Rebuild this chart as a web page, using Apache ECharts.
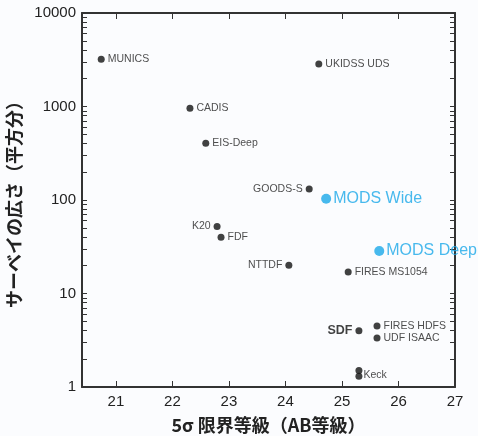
<!DOCTYPE html>
<html>
<head>
<meta charset="utf-8">
<script src="https://cdn.jsdelivr.net/npm/echarts@6/dist/echarts.min.js"></script>
<style>
  html, body { margin: 0; padding: 0; background: #fbfcfe; }
  #chart { width: 478px; height: 436px; }
</style>
</head>
<body>
<div id="chart"></div>
<script>
// サーベイ名・5σ限界等級・面積(平方分)
const surveyNames = ['MUNICS', 'CADIS', 'EIS-Deep', 'UKIDSS UDS', 'GOODS-S', 'K20', 'FDF',
  'NTTDF', 'FIRES MS1054', 'FIRES HDFS', 'UDF ISAAC', 'SDF', 'Keck', 'Keck'];
const surveyMag = [20.74, 22.31, 22.59, 24.59, 24.42, 22.79, 22.86,
  24.06, 25.11, 25.62, 25.62, 25.30, 25.30, 25.30];
const surveyArea = [3200, 960, 405, 2850, 131, 52, 40,
  20, 17, 4.5, 3.35, 4.0, 1.5, 1.3];

const modsNames = ['MODS Wide', 'MODS Deep'];
const modsMag = [24.72, 25.66];
const modsArea = [103, 28.5];

const xTicks = [21, 22, 23, 24, 25, 26, 27];
const yTicks = [1, 10, 100, 1000, 10000];
const yMinorTicks = [2, 3, 4, 5, 6, 7, 8, 9, 20, 30, 40, 50, 60, 70, 80, 90,
  200, 300, 400, 500, 600, 700, 800, 900, 2000, 3000, 4000, 5000, 6000, 7000, 8000, 9000];

var myChart = echarts.init(document.getElementById('chart'));

var font = 'Liberation Sans';
var cjk = 'Noto Sans CJK JP';
var axisCol = '#333';

// ラベルの位置
var labelSide = {
  'GOODS-S': 'left', 'K20': 'left', 'NTTDF': 'left', 'SDF': 'left'
};

var surveyData = surveyNames.map(function (n, i) {
  var d = { value: [surveyMag[i], surveyArea[i]], name: n,
    label: { position: labelSide[n] || 'right' } };
  if (n === 'SDF') {
    d.label.fontSize = 12.5; d.label.fontWeight = 'bold'; d.label.color = '#111';
  }
  if (n === 'Keck' && i === 12) d.label = { show: false };
  if (n === 'Keck' && i === 13) d.label = { position: 'right', distance: 1, offset: [0, -1] };
  return d;
});
var modsData = modsNames.map(function (n, i) {
  return { value: [modsMag[i], modsArea[i]], name: n };
});

var yAllTicks = yTicks.concat(yMinorTicks).sort(function (a, b) { return a - b; });

function xAxisOf(pos, withLabel) {
  var ax = {
    type: 'value', min: 20.4, max: 27, position: pos,
    axisLine: { show: true, onZero: false, lineStyle: { color: axisCol, width: 2 } },
    axisTick: { show: true, inside: true, length: 6, customValues: xTicks },
    axisLabel: { customValues: xTicks, fontSize: 15,
      color: withLabel ? '#222' : 'rgba(0,0,0,0)', fontFamily: font, margin: 7 },
    splitLine: { show: false }
  };
  if (withLabel) {
    ax.name = '5σ 限界等級（AB等級）';
    ax.nameLocation = 'middle';
    ax.nameGap = 29;
    ax.nameTextStyle = { fontSize: 18, fontWeight: 'bold', color: '#222', fontFamily: cjk };
  }
  return ax;
}

function yAxisOf(pos, withLabel) {
  var ax = {
    type: 'log', min: 1, max: 10000, position: pos,
    axisLine: { show: true, onZero: false, lineStyle: { color: axisCol, width: 2 } },
    axisTick: { show: true, inside: true, length: 5, customValues: yAllTicks },
    axisLabel: { customValues: yTicks, fontSize: 15,
      color: withLabel ? '#222' : 'rgba(0,0,0,0)', fontFamily: font, margin: 6,
      formatter: function (v) { return String(v); } },
    splitLine: { show: false }
  };
  if (withLabel) {
    ax.name = 'サーベイの広さ（平方分）';
    ax.nameLocation = 'middle';
    ax.nameGap = 56;
    ax.nameRotate = 90;
    ax.nameTextStyle = { fontSize: 18, fontWeight: 'bold', color: '#222', fontFamily: cjk };
  }
  return ax;
}

var option = {
  backgroundColor: '#fbfcfe',
  animation: false,
  grid: { left: 82, right: 23, top: 13, bottom: 49, outerBoundsMode: 'none' },
  xAxis: [xAxisOf('bottom', true), xAxisOf('top', false)],
  yAxis: [yAxisOf('left', true), yAxisOf('right', false)],
  series: [
    {
      type: 'scatter', xAxisIndex: 0, yAxisIndex: 0,
      symbolSize: 7, itemStyle: { color: '#111' },
      label: { show: true, formatter: '{b}', fontSize: 10.5, color: '#222',
        fontFamily: font, distance: 3 },
      data: surveyData
    },
    {
      type: 'scatter', xAxisIndex: 0, yAxisIndex: 0,
      symbolSize: 10, itemStyle: { color: '#1aa8e8' },
      label: { show: true, position: 'right', formatter: '{b}', fontSize: 16,
        color: '#1aa8e8', fontFamily: font, distance: 2 },
      data: modsData
    }
  ]
};
myChart.setOption(option);
</script>
</body>
</html>
